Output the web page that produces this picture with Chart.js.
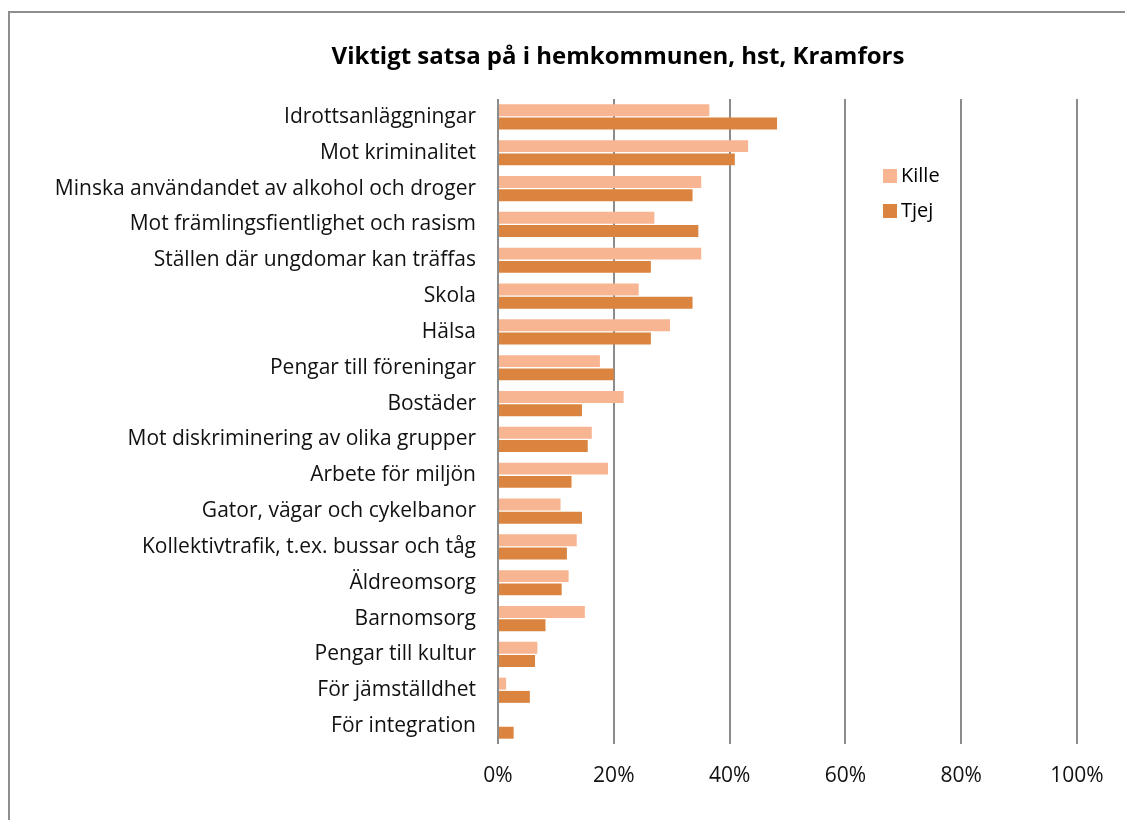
<!DOCTYPE html><html>
<meta charset="UTF-8">
<script src="https://cdn.jsdelivr.net/npm/chart.js@4/dist/chart.umd.min.js"></script>
<style>
 body{margin:0;background:#fff;}
</style>
<canvas id="canvas_hst" width="1125" height="820"></canvas>
<script>
var chartTitle = 'Viktigt satsa på i hemkommunen, hst, Kramfors';
var categories = ['Idrottsanläggningar','Mot kriminalitet','Minska användandet av alkohol och droger',
 'Mot främlingsfientlighet och rasism','Ställen där ungdomar kan träffas','Skola','Hälsa',
 'Pengar till föreningar','Bostäder','Mot diskriminering av olika grupper','Arbete för miljön',
 'Gator, vägar och cykelbanor','Kollektivtrafik, t.ex. bussar och tåg','Äldreomsorg','Barnomsorg',
 'Pengar till kultur','För jämställdhet','För integration'];
var kille = [36.5,43.2,35.1,27.0,35.1,24.3,29.7,17.6,21.7,16.2,19.0,10.8,13.6,12.2,15.0,6.8,1.4,0];
var tjej  = [48.2,40.9,33.6,34.6,26.4,33.6,26.4,20.0,14.5,15.5,12.7,14.5,11.9,11.0,8.2,6.4,5.5,2.7];
var xTicks = [0,20,40,60,80,100];

var FONT = '"Open Sans", Lato, sans-serif';

// frame, title and legend drawn by hand
var decor = {
 id:'decor',
 beforeDraw: function(c){
  var ctx = c.ctx;
  ctx.save();
  ctx.fillStyle = '#fff';
  ctx.fillRect(0,0,c.width,c.height);
  ctx.strokeStyle = '#8e8e8e';
  ctx.lineWidth = 2;
  ctx.beginPath();
  ctx.moveTo(9,c.height); ctx.lineTo(9,12); ctx.lineTo(c.width,12);
  ctx.stroke();
  ctx.restore();
 },
 afterDraw: function(c){
  var ctx = c.ctx, a = c.chartArea;
  ctx.save();
  ctx.fillStyle = '#000';
  ctx.font = 'bold 24px ' + FONT;
  ctx.textAlign = 'center';
  ctx.textBaseline = 'middle';
  ctx.fillText(chartTitle, 618, 57);
  ctx.font = '20px ' + FONT;
  ctx.textAlign = 'left';
  c.data.datasets.forEach(function(ds,i){
   var y = a.top + 77 + i*35;
   ctx.fillStyle = ds.backgroundColor;
   ctx.fillRect(a.left + 385, y - 7, 14, 14);
   ctx.fillStyle = '#000';
   ctx.fillText(ds.label, a.left + 403, y);
  });
  ctx.restore();
 }
};

new Chart(document.getElementById('canvas_hst'), {
 type:'bar',
 data:{
  labels: categories,
  datasets:[
   {label:'Kille', data:kille, backgroundColor:'#F8B592'},
   {label:'Tjej', data:tjej, backgroundColor:'#DB843F'}
  ]
 },
 plugins:[decor],
 options:{
  indexAxis:'y',
  responsive:false,
  animation:false,
  devicePixelRatio:1,
  categoryPercentage:0.74,
  barPercentage:0.9,
  layout:{padding:{left:10,right:48,top:99,bottom:20}},
  plugins:{legend:{display:false},title:{display:false},tooltip:{enabled:false}},
  scales:{
   x:{
    min:0,max:100,
    afterBuildTicks:function(s){ s.ticks = xTicks.map(function(v){return {value:v};}); },
    afterFit:function(s){ s.height = 56; },
    grid:{color:'#8c8c8c',lineWidth:2,drawTicks:false},
    border:{display:false},
    ticks:{padding:19,color:'#111',font:{family:FONT,size:21},callback:function(v){return v+'%';}}
   },
   y:{
    afterFit:function(s){ s.width = 488; },
    grid:{display:false},
    border:{display:false},
    ticks:{padding:14,color:'#111',font:{family:FONT,size:21},autoSkip:false}
   }
  }
 }
});
</script>
</html>
